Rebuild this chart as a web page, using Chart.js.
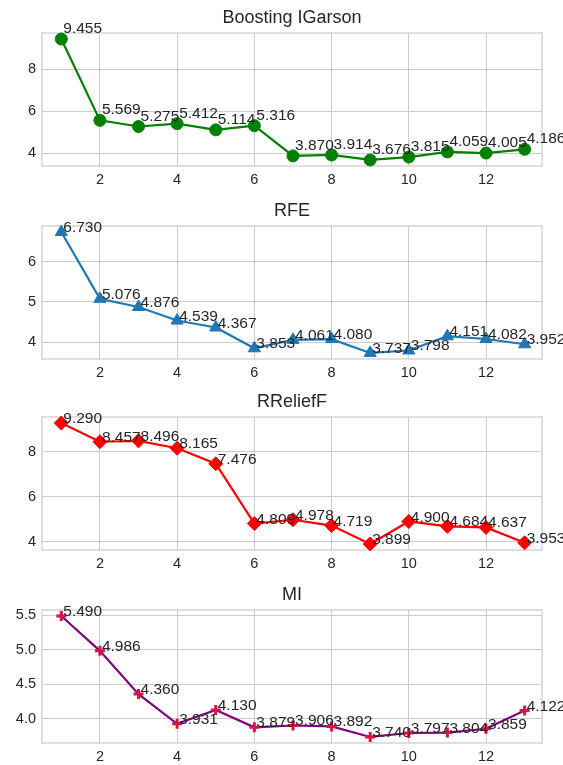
<!DOCTYPE html>
<html>
<head>
<meta charset="utf-8">
<script src="https://cdn.jsdelivr.net/npm/chart.js@4.4.1/dist/chart.umd.min.js"></script>
<style>
  html, body { margin: 0; padding: 0; background: #ffffff; overflow: hidden; }
  body { width: 563px; height: 765px; position: relative; }
  canvas { position: absolute; left: 0; }
</style>
</head>
<body>
<canvas id="c0" width="563" height="193" style="top:0px"></canvas>
<canvas id="c1" width="563" height="193" style="top:193px"></canvas>
<canvas id="c2" width="563" height="193" style="top:384px"></canvas>
<canvas id="c3" width="563" height="193" style="top:577px"></canvas>
<script>
// x values: number of features
const featureCounts = [1, 2, 3, 4, 5, 6, 7, 8, 9, 10, 11, 12, 13];
const xTicks = [2, 4, 6, 8, 10, 12];

// series values
const igarsonValues = [9.455, 5.569, 5.275, 5.412, 5.114, 5.316, 3.870, 3.914, 3.676, 3.815, 4.059, 4.005, 4.186];
const rfeValues = [6.730, 5.076, 4.876, 4.539, 4.367, 3.853, 4.061, 4.080, 3.737, 3.798, 4.151, 4.082, 3.952];
const relieffValues = [9.290, 8.457, 8.496, 8.165, 7.476, 4.809, 4.978, 4.719, 3.899, 4.900, 4.684, 4.637, 3.953];
const miValues = [5.490, 4.986, 4.360, 3.931, 4.130, 3.879, 3.906, 3.892, 3.740, 3.797, 3.804, 3.859, 4.122];

// panel titles and y tick labels
const panelTitles = ['Boosting IGarson', 'RFE', 'RReliefF', 'MI'];
const igarsonTicks = [4, 6, 8];
const rfeTicks = [4, 5, 6];
const relieffTicks = [4, 6, 8];
const miTicks = [4.0, 4.5, 5.0, 5.5];

const FONT = '"Liberation Sans", Arial, sans-serif';
const TEXT = '#262626';
const GRID = '#cccccc';

const panels = [
    { id: 'c0', title: panelTitles[0], values: igarsonValues, ticks: igarsonTicks, decimals: 0,
      line: 'green', marker: 'green', style: 'circle', radius: 6, border: 1, labelDy: -6 },
    { id: 'c1', title: panelTitles[1], values: rfeValues, ticks: rfeTicks, decimals: 0,
      line: '#1f77b4', marker: '#1f77b4', style: 'triangle', radius: 7, border: 1, labelDy: 0 },
    { id: 'c2', title: panelTitles[2], values: relieffValues, ticks: relieffTicks, decimals: 0,
      line: 'red', marker: 'red', style: 'rectRot', radius: 7, border: 1, labelDy: 0 },
    { id: 'c3', title: panelTitles[3], values: miValues, ticks: miTicks, decimals: 1,
      line: 'purple', marker: '#d81446', style: 'cross', radius: 5, border: 3, labelDy: 0 }
];

// Title above the plot area, plus the frame around it
const framePlugin = {
    id: 'frame',
    beforeDatasetsDraw(chart, args, opts) {
        const a = chart.chartArea;
        const ctx = chart.ctx;
        ctx.save();
        ctx.strokeStyle = GRID;
        ctx.lineWidth = 1.25;
        ctx.strokeRect(a.left, a.top, a.right - a.left, a.bottom - a.top);
        ctx.restore();
    },
    afterDraw(chart, args, opts) {
        const a = chart.chartArea;
        const ctx = chart.ctx;
        ctx.save();
        ctx.fillStyle = TEXT;
        ctx.font = '18px ' + FONT;
        ctx.textAlign = 'center';
        ctx.textBaseline = 'alphabetic';
        ctx.fillText(opts.text, (a.left + a.right) / 2, a.top - 10);
        ctx.restore();
    }
};

// Value labels next to each point
const valueLabels = {
    id: 'valueLabels',
    afterDatasetsDraw(chart, args, opts) {
        const ctx = chart.ctx;
        const ds = chart.data.datasets[0];
        const meta = chart.getDatasetMeta(0);
        ctx.save();
        ctx.fillStyle = TEXT;
        ctx.font = '15.5px ' + FONT;
        ctx.textAlign = 'left';
        ctx.textBaseline = 'alphabetic';
        meta.data.forEach((pt, i) => {
            ctx.fillText(ds.data[i].y.toFixed(3), pt.x + 2, pt.y + opts.dy);
        });
        ctx.restore();
    }
};

panels.forEach(p => {
    const lo = Math.min(...p.values);
    const hi = Math.max(...p.values);
    const pad = (hi - lo) * 0.05;

    new Chart(document.getElementById(p.id), {
        type: 'line',
        data: {
            datasets: [{
                data: featureCounts.map((x, i) => ({ x: x, y: p.values[i] })),
                borderColor: p.line,
                borderWidth: 2.2,
                pointStyle: p.style,
                pointRadius: p.radius,
                pointHoverRadius: p.radius,
                pointBackgroundColor: p.marker,
                pointBorderColor: p.marker,
                pointBorderWidth: p.border,
                tension: 0,
                clip: false
            }]
        },
        options: {
            responsive: false,
            animation: false,
            layout: { padding: { top: 33, left: 0, right: 21, bottom: 0 } },
            plugins: {
                legend: { display: false },
                tooltip: { enabled: false },
                frame: { text: p.title },
                valueLabels: { dy: p.labelDy }
            },
            scales: {
                x: {
                    type: 'linear',
                    min: 0.5,
                    max: 13.45,
                    afterBuildTicks: s => { s.ticks = xTicks.map(v => ({ value: v })); },
                    afterFit: s => { s.height = 27; },
                    grid: { color: GRID, lineWidth: 1, drawTicks: false },
                    border: { display: false },
                    ticks: { color: TEXT, font: { family: FONT, size: 14.5 }, padding: 5 }
                },
                y: {
                    type: 'linear',
                    min: lo - pad,
                    max: hi + pad,
                    afterBuildTicks: s => { s.ticks = p.ticks.map(v => ({ value: v })); },
                    afterFit: s => { s.width = 42; },
                    grid: { color: GRID, lineWidth: 1, drawTicks: false },
                    border: { display: false },
                    ticks: {
                        color: TEXT,
                        font: { family: FONT, size: 14.5 },
                        padding: 6,
                        callback: v => v.toFixed(p.decimals)
                    }
                }
            }
        },
        plugins: [framePlugin, valueLabels]
    });
});
</script>
</body>
</html>
